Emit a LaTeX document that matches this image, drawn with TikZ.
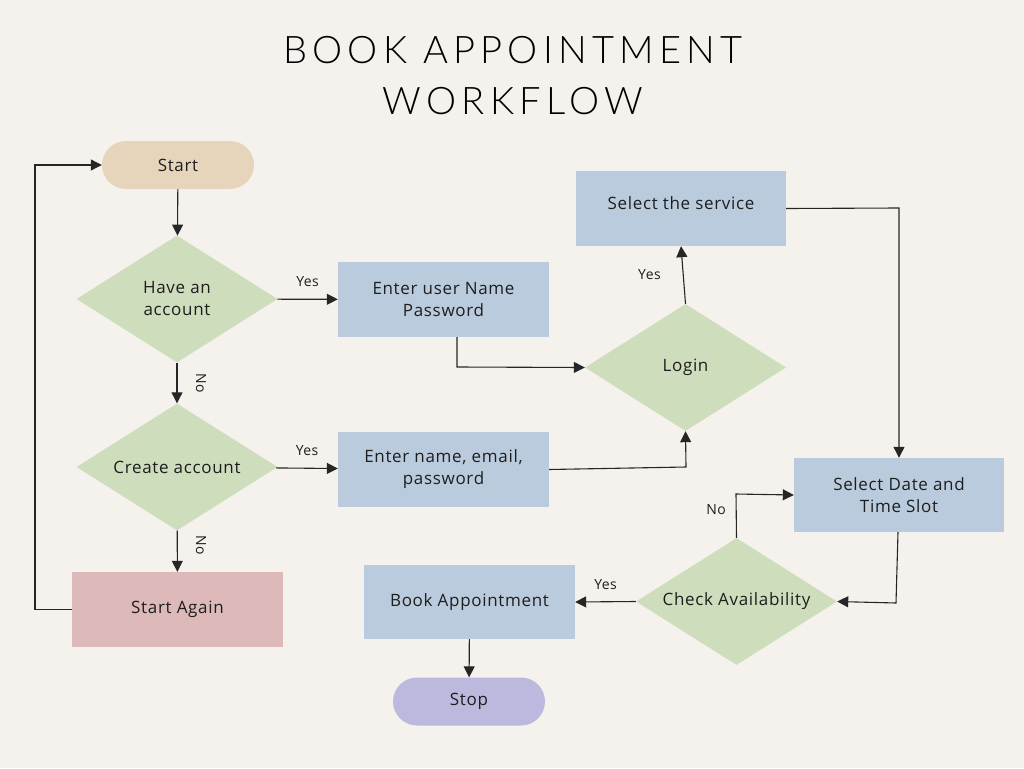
\documentclass[tikz,border=0pt]{standalone}
\usepackage{fontspec}
\setmainfont[LetterSpace=4]{Open Sans}
\newfontfamily\lblfont[LetterSpace=3]{Open Sans}
\newfontfamily\titlefont[LetterSpace=14,UprightFont=* Light]{Lato}
\usetikzlibrary{arrows.meta,shapes.geometric}
\definecolor{bgc}{HTML}{F5F2EE}
\definecolor{startc}{HTML}{E6D5BA}
\definecolor{decc}{HTML}{CEDDBB}
\definecolor{procc}{HTML}{BACBDD}
\definecolor{againc}{HTML}{DDB9B9}
\definecolor{stopc}{HTML}{BBB9DD}
\definecolor{txt}{HTML}{1E1E1E}
\tikzset{
  base/.style={inner sep=0pt,align=center,text=txt,font=\fontsize{17}{22}\selectfont},
  term/.style={base,rounded corners=24pt,minimum width=152pt,minimum height=48pt},
  proc/.style={base,fill=procc,minimum width=211pt,minimum height=75pt},
  dec/.style={base,diamond,fill=decc,minimum width=201pt,minimum height=127pt,aspect=1.58},
  conn/.style={line width=1.1pt,draw=black!85,-{Triangle[length=11pt,width=11pt]}},
  lbl/.style={text=txt,font=\lblfont\fontsize{14}{16}\selectfont,inner sep=0pt}
}
\begin{document}
\begin{tikzpicture}[x=1pt,y=-1pt]
\fill[bgc] (0,0) rectangle (1024,768);
\useasboundingbox (0,0) rectangle (1024,768);
\node[text=black,font=\titlefont\fontsize{38}{46}\selectfont] (t1) at (513,50) {BOOK APPOINTMENT};
\node[text=black,font=\titlefont\fontsize{38}{46}\selectfont] (t2) at (513,101) {WORKFLOW};

\node[term,fill=startc] (start) at (178,165) {Start};
\node[dec] (have) at (177,299) {Have an\\account};
\node[dec] (create) at (177,467) {Create account};
\node[base,fill=againc,minimum width=211pt,minimum height=75pt] (again) at (177.5,609.5) {Start Again};
\node[proc] (user) at (443.5,299.5) {Enter user Name\\Password};
\node[proc] (email) at (443.5,469.5) {Enter name, email,\\password};
\node[dec] (login) at (685.5,367.5) {Login};
\node[proc,minimum width=210pt] (service) at (681,208.5) {};
\node[base] (servicet) at (681,203) {Select the service};
\node[proc,minimum width=210pt,minimum height=74pt] (date) at (899,495) {Select Date and\\Time Slot};
\node[dec] (check) at (736.5,601.5) {Check Availability};
\node[proc,minimum height=74pt] (book) at (469.5,602) {Book Appointment};
\node[term,fill=stopc] (stop) at (469,701.5) {Stop};

\draw[conn] (start) -- (have);
\draw[conn] (have) -- (user) node[lbl,midway,above=12pt] (y1) {Yes};
\draw[conn] (have) -- (create);
\node[lbl,rotate=-90] (n1t) at (201,383) {No};
\draw[conn] (create) -- (email) node[lbl,midway,above=12pt] (y2) {Yes};
\draw[conn] (create) -- (again);
\node[lbl,rotate=-90] (n2t) at (201,545) {No};
\draw[conn] (again.west) -- (35,609.5) -- (35,165) -- (start.west);
\draw[conn] (457,337) -- (457,367) -- (login.west);
\draw[conn] (email.east) -- (686,467) -- (login.south);
\draw[conn] (login.north) -- (service.south) node[lbl,midway,left=22pt] (y3) {Yes};
\draw[conn] (service.east) -- (899,208) -- (date.north);
\draw[conn] (898,532) -- (896,603) -- (check.east);
\draw[conn] (check.north) -- (736,494) -- (date.west);
\node[lbl] (n3) at (716,510) {No};
\draw[conn] (check.west) -- (book.east) node[lbl,midway,above=12pt] (y4) {Yes};
\draw[conn] (book) -- (stop);
\end{tikzpicture}
\end{document}
